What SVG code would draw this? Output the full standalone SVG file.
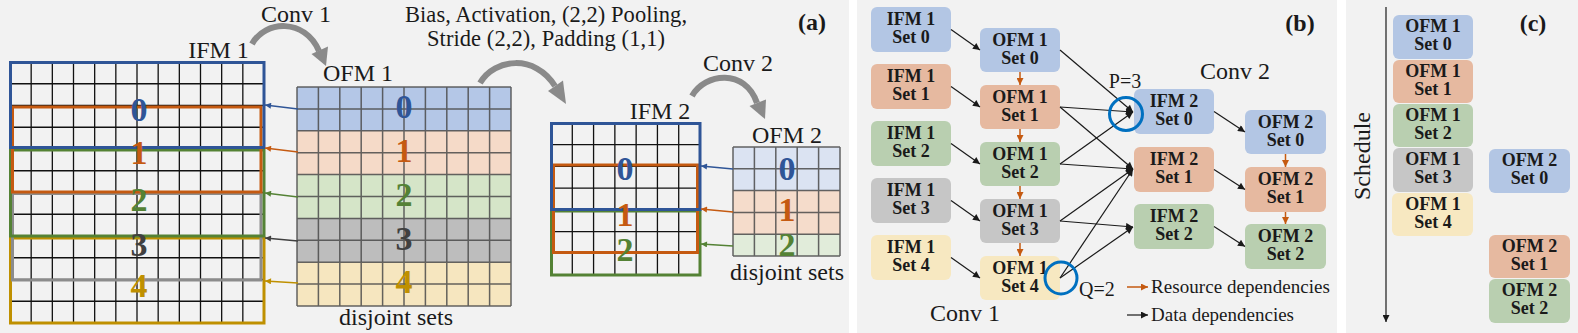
<svg xmlns="http://www.w3.org/2000/svg" width="1578" height="333" viewBox="0 0 1578 333">
<style>
text{font-family:"Liberation Serif","DejaVu Serif","Times New Roman",serif;fill:#1a1a1a}
.lbl{font-size:24px;font-family:"Liberation Serif","DejaVu Serif",serif;font-weight:normal}
.big{font-size:34px;font-weight:bold;text-anchor:middle}
.pl{font-size:24px;font-weight:bold;text-anchor:middle}
.nt{font-size:18px;font-weight:bold;text-anchor:middle}
.sm{font-family:"Liberation Serif","DejaVu Serif",serif;font-weight:normal}
.mid{text-anchor:middle}
.grid{fill:none;stroke:#111;stroke-width:1.3}
.ogrid{fill:none;stroke:#4a4a4a;stroke-width:1.5;stroke-opacity:0.85}
.box{fill:none;stroke-width:3}
.arc{fill:none;stroke:#8a8a8a;stroke-width:6}
.ahd{fill:#8a8a8a}
.e{stroke:#1a1a1a;stroke-width:1.2;fill:none;marker-end:url(#mk)}
.r{stroke:#c55a11;stroke-width:1.5;fill:none;marker-end:url(#mr)}
.cb{fill:#b3c6e4}.co{fill:#e6b9a0}.cg{fill:#b9cfb0}.cy{fill:#c6c6c6}.cl{fill:#f7e8c1}
</style>
<defs>
<marker id="mk" viewBox="0 0 10 10" refX="10" refY="5" markerUnits="userSpaceOnUse" markerWidth="10" markerHeight="7" orient="auto"><path d="M0,0L10,5L0,10z" fill="#1a1a1a"/></marker>
<marker id="mr" viewBox="0 0 10 10" refX="10" refY="5" markerUnits="userSpaceOnUse" markerWidth="8" markerHeight="7" orient="auto"><path d="M0,0L10,5L0,10z" fill="#c55a11"/></marker>
<marker id="m0" viewBox="0 0 10 10" refX="10" refY="5" markerUnits="userSpaceOnUse" markerWidth="9" markerHeight="6" orient="auto"><path d="M0,0L10,5L0,10z" fill="#2f5597"/></marker>
<marker id="m1" viewBox="0 0 10 10" refX="10" refY="5" markerUnits="userSpaceOnUse" markerWidth="9" markerHeight="6" orient="auto"><path d="M0,0L10,5L0,10z" fill="#c55a11"/></marker>
<marker id="m2" viewBox="0 0 10 10" refX="10" refY="5" markerUnits="userSpaceOnUse" markerWidth="9" markerHeight="6" orient="auto"><path d="M0,0L10,5L0,10z" fill="#548235"/></marker>
<marker id="m3" viewBox="0 0 10 10" refX="10" refY="5" markerUnits="userSpaceOnUse" markerWidth="9" markerHeight="6" orient="auto"><path d="M0,0L10,5L0,10z" fill="#404040"/></marker>
<marker id="m4" viewBox="0 0 10 10" refX="10" refY="5" markerUnits="userSpaceOnUse" markerWidth="9" markerHeight="6" orient="auto"><path d="M0,0L10,5L0,10z" fill="#bf9000"/></marker>
</defs>

<!-- panel backgrounds -->
<rect x="0" y="0" width="1578" height="333" fill="#ffffff"/>
<rect x="0" y="0" width="849" height="333" fill="#f2f2f2"/>
<rect x="857" y="0" width="480" height="333" fill="#f2f2f2"/>
<rect x="1346" y="0" width="232" height="333" fill="#f2f2f2"/>

<!-- ===== Panel (a) ===== -->
<g id="ifm1">
<path class="grid" d="M10,62V323M31.17,62V323M52.33,62V323M73.5,62V323M94.67,62V323M115.83,62V323M137,62V323M158.17,62V323M179.33,62V323M200.5,62V323M221.67,62V323M242.83,62V323M264,62V323M10,62H264M10,83.75H264M10,105.5H264M10,127.25H264M10,149H264M10,170.75H264M10,192.5H264M10,214.25H264M10,236H264M10,257.75H264M10,279.5H264M10,301.25H264M10,323H264"/>
<rect class="box" x="10.5" y="238" width="253.5" height="85" stroke="#bf9000"/>
<rect class="box" x="12.5" y="193.5" width="248.5" height="86.5" stroke="#8c8c8c"/>
<rect class="box" x="10.5" y="150" width="253.5" height="86" stroke="#548235"/>
<rect class="box" x="12.5" y="107" width="248.5" height="85" stroke="#c55a11"/>
<rect class="box" x="10.5" y="62.5" width="253.5" height="85" stroke="#2f5597"/>
<text class="big" x="139" y="121" style="fill:#2f5597">0</text>
<text class="big" x="139" y="164" style="fill:#c55a11">1</text>
<text class="big" x="139" y="211" style="fill:#548235">2</text>
<text class="big" x="139" y="256" style="fill:#404040">3</text>
<text class="big" x="139" y="297" style="fill:#bf9000">4</text>
<text class="lbl mid" x="218.5" y="58">IFM 1</text>
</g>

<g id="ofm1">
<rect x="297" y="87" width="214" height="43.8" fill="#b4c7e7"/>
<rect x="297" y="130.8" width="214" height="43.8" fill="#f5dac8"/>
<rect x="297" y="174.6" width="214" height="43.8" fill="#d5e5c8"/>
<rect x="297" y="218.4" width="214" height="43.8" fill="#bdbdbd"/>
<rect x="297" y="262.2" width="214" height="43.8" fill="#f6e6bf"/>
<path class="ogrid" d="M297,87V306M318.4,87V306M339.8,87V306M361.2,87V306M382.6,87V306M404,87V306M425.4,87V306M446.8,87V306M468.2,87V306M489.6,87V306M511,87V306M297,87H511M297,108.9H511M297,130.8H511M297,152.7H511M297,174.6H511M297,196.5H511M297,218.4H511M297,240.3H511M297,262.2H511M297,284.1H511M297,306H511"/>
<text class="big" x="404" y="118" style="fill:#2f5597">0</text>
<text class="big" x="404" y="162" style="fill:#c55a11">1</text>
<text class="big" x="404" y="206" style="fill:#548235">2</text>
<text class="big" x="404" y="250" style="fill:#404040">3</text>
<text class="big" x="404" y="293" style="fill:#bf9000">4</text>
<text class="lbl mid" x="358" y="81">OFM 1</text>
<text class="lbl mid" x="396" y="325">disjoint sets</text>
</g>

<g id="ifm2">
<path class="grid" d="M551,123V275M572.29,123V275M593.57,123V275M614.86,123V275M636.14,123V275M657.43,123V275M678.71,123V275M700,123V275M551,123H700M551,144.71H700M551,166.43H700M551,188.14H700M551,209.86H700M551,231.57H700M551,253.29H700M551,275H700"/>
<rect class="box" x="551.5" y="211" width="148.5" height="64" stroke="#548235"/>
<rect class="box" x="553.5" y="165" width="144" height="87.5" stroke="#c55a11"/>
<rect class="box" x="551.5" y="123.5" width="148.5" height="86" stroke="#2f5597"/>
<text class="big" x="625" y="180" style="fill:#2f5597">0</text>
<text class="big" x="625" y="226" style="fill:#c55a11">1</text>
<text class="big" x="625" y="261" style="fill:#548235">2</text>
<text class="lbl mid" x="660" y="119">IFM 2</text>
</g>

<g id="ofm2">
<rect x="733" y="147" width="107" height="43.6" fill="#dbe3f2"/>
<rect x="733" y="190.6" width="107" height="43.6" fill="#f5dccb"/>
<rect x="733" y="234.2" width="107" height="21.8" fill="#e1ecda"/>
<path class="ogrid" d="M733,147V256M754.4,147V256M775.8,147V256M797.2,147V256M818.6,147V256M840,147V256M733,147H840M733,168.8H840M733,190.6H840M733,212.4H840M733,234.2H840M733,256H840"/>
<text class="big" x="787" y="180" style="fill:#2f5597">0</text>
<text class="big" x="787" y="221" style="fill:#c55a11">1</text>
<text class="big" x="787" y="256" style="fill:#548235">2</text>
<text class="lbl mid" x="787" y="143">OFM 2</text>
<text class="lbl mid" x="787" y="280">disjoint sets</text>
</g>

<g id="arcs">
<path class="arc" d="M252,44C265,20 305,18 319,51"/>
<polygon class="ahd" points="311.5,54 328,46.5 326,66"/>
<path class="arc" d="M480,83C495,58 535,54 555,86"/>
<polygon class="ahd" points="548,91 563,80.5 566,104"/>
<path class="arc" d="M692,96C705,73 745,68 757,103"/>
<polygon class="ahd" points="749.5,106 766,99.5 765,119"/>
<text class="lbl mid" x="296" y="22">Conv 1</text>
<text class="lbl mid" x="546" y="22" style="font-size:22.5px" textLength="282">Bias, Activation, (2,2) Pooling,</text>
<text class="lbl mid" x="546" y="46" style="font-size:22.5px" textLength="238">Stride (2,2), Padding (1,1)</text>
<text class="lbl mid" x="738" y="71">Conv 2</text>
<text class="pl" x="812" y="30">(a)</text>
</g>

<g id="connectors-a" fill="none" stroke-width="1.3">
<line x1="298" y1="109" x2="265" y2="105" stroke="#2f5597" marker-end="url(#m0)"/>
<line x1="298" y1="152" x2="265" y2="148" stroke="#c55a11" marker-end="url(#m1)"/>
<line x1="298" y1="197" x2="265" y2="193" stroke="#548235" marker-end="url(#m2)"/>
<line x1="298" y1="241" x2="265" y2="238" stroke="#404040" marker-end="url(#m3)"/>
<line x1="298" y1="283" x2="265" y2="281" stroke="#bf9000" marker-end="url(#m4)"/>
<line x1="733" y1="169" x2="701" y2="166" stroke="#2f5597" marker-end="url(#m0)"/>
<line x1="733" y1="212" x2="701" y2="209" stroke="#c55a11" marker-end="url(#m1)"/>
<line x1="733" y1="246" x2="701" y2="244" stroke="#548235" marker-end="url(#m2)"/>
</g>

<!-- ===== Panel (b) ===== -->
<g id="b-ifm1-0"><rect class="cb" x="871" y="7" width="80" height="45" rx="6"/><text class="nt" x="911" y="25">IFM 1</text><text class="nt" x="911" y="43">Set 0</text></g>
<g id="b-ifm1-1"><rect class="co" x="871" y="64" width="80" height="45" rx="6"/><text class="nt" x="911" y="82">IFM 1</text><text class="nt" x="911" y="100">Set 1</text></g>
<g id="b-ifm1-2"><rect class="cg" x="871" y="121" width="80" height="45" rx="6"/><text class="nt" x="911" y="139">IFM 1</text><text class="nt" x="911" y="157">Set 2</text></g>
<g id="b-ifm1-3"><rect class="cy" x="871" y="178" width="80" height="45" rx="6"/><text class="nt" x="911" y="196">IFM 1</text><text class="nt" x="911" y="214">Set 3</text></g>
<g id="b-ifm1-4"><rect class="cl" x="871" y="235" width="80" height="45" rx="6"/><text class="nt" x="911" y="253">IFM 1</text><text class="nt" x="911" y="271">Set 4</text></g>

<g id="b-ofm1-0"><rect class="cb" x="980" y="28" width="80" height="44" rx="6"/><text class="nt" x="1020" y="46">OFM 1</text><text class="nt" x="1020" y="64">Set 0</text></g>
<g id="b-ofm1-1"><rect class="co" x="980" y="85" width="80" height="44" rx="6"/><text class="nt" x="1020" y="103">OFM 1</text><text class="nt" x="1020" y="121">Set 1</text></g>
<g id="b-ofm1-2"><rect class="cg" x="980" y="142" width="80" height="44" rx="6"/><text class="nt" x="1020" y="160">OFM 1</text><text class="nt" x="1020" y="178">Set 2</text></g>
<g id="b-ofm1-3"><rect class="cy" x="980" y="199" width="80" height="44" rx="6"/><text class="nt" x="1020" y="217">OFM 1</text><text class="nt" x="1020" y="235">Set 3</text></g>
<g id="b-ofm1-4"><rect class="cl" x="980" y="256" width="80" height="44" rx="6"/><text class="nt" x="1020" y="274">OFM 1</text><text class="nt" x="1020" y="292">Set 4</text></g>

<g id="b-ifm2-0"><rect class="cb" x="1134" y="89" width="80" height="45" rx="6"/><text class="nt" x="1174" y="107">IFM 2</text><text class="nt" x="1174" y="125">Set 0</text></g>
<g id="b-ifm2-1"><rect class="co" x="1134" y="147" width="80" height="45" rx="6"/><text class="nt" x="1174" y="165">IFM 2</text><text class="nt" x="1174" y="183">Set 1</text></g>
<g id="b-ifm2-2"><rect class="cg" x="1134" y="204" width="80" height="45" rx="6"/><text class="nt" x="1174" y="222">IFM 2</text><text class="nt" x="1174" y="240">Set 2</text></g>

<g id="b-ofm2-0"><rect class="cb" x="1245" y="110" width="81" height="44" rx="6"/><text class="nt" x="1285.5" y="128">OFM 2</text><text class="nt" x="1285.5" y="146">Set 0</text></g>
<g id="b-ofm2-1"><rect class="co" x="1245" y="167" width="81" height="45" rx="6"/><text class="nt" x="1285.5" y="185">OFM 2</text><text class="nt" x="1285.5" y="203">Set 1</text></g>
<g id="b-ofm2-2"><rect class="cg" x="1245" y="224" width="81" height="45" rx="6"/><text class="nt" x="1285.5" y="242">OFM 2</text><text class="nt" x="1285.5" y="260">Set 2</text></g>

<g id="connectors-b">
<line class="e" x1="951" y1="29.5" x2="980" y2="50"/>
<line class="e" x1="951" y1="86.5" x2="980" y2="107"/>
<line class="e" x1="951" y1="143.5" x2="980" y2="164"/>
<line class="e" x1="951" y1="200.5" x2="980" y2="221"/>
<line class="e" x1="951" y1="257.5" x2="980" y2="278"/>
<line class="r" x1="1020" y1="72" x2="1020" y2="85"/>
<line class="r" x1="1020" y1="129" x2="1020" y2="142"/>
<line class="r" x1="1020" y1="186" x2="1020" y2="199"/>
<line class="r" x1="1020" y1="243" x2="1020" y2="256"/>
<line class="e" x1="1060" y1="50" x2="1133" y2="112"/>
<line class="e" x1="1060" y1="107" x2="1133" y2="112"/>
<line class="e" x1="1060" y1="164" x2="1133" y2="112"/>
<line class="e" x1="1060" y1="107" x2="1133" y2="169"/>
<line class="e" x1="1060" y1="164" x2="1133" y2="169"/>
<line class="e" x1="1060" y1="221" x2="1133" y2="169"/>
<line class="e" x1="1060" y1="278" x2="1133" y2="169"/>
<line class="e" x1="1060" y1="221" x2="1133" y2="227"/>
<line class="e" x1="1060" y1="278" x2="1133" y2="227"/>
<line class="e" x1="1214" y1="111.5" x2="1245" y2="132"/>
<line class="e" x1="1214" y1="169.5" x2="1245" y2="189.5"/>
<line class="e" x1="1214" y1="226.5" x2="1245" y2="246.5"/>
<line class="r" x1="1285.5" y1="154" x2="1285.5" y2="167"/>
<line class="r" x1="1285.5" y1="212" x2="1285.5" y2="224"/>
<circle cx="1126" cy="114" r="16.5" fill="none" stroke="#0070c0" stroke-width="3"/>
<circle cx="1061" cy="278" r="16" fill="none" stroke="#0070c0" stroke-width="3"/>
</g>

<g id="b-labels">
<text class="pl" x="1300" y="31">(b)</text>
<text class="lbl mid" x="1235" y="79">Conv 2</text>
<text class="sm mid" x="1125" y="88" style="font-size:20px">P=3</text>
<text class="sm" x="1079" y="296" style="font-size:20px">Q=2</text>
<text class="lbl mid" x="965" y="321">Conv 1</text>
<line class="r" x1="1127" y1="287" x2="1148" y2="287"/>
<text class="sm" x="1151" y="293" style="font-size:19px" textLength="179">Resource dependencies</text>
<line class="e" x1="1127" y1="315" x2="1148" y2="315"/>
<text class="sm" x="1151" y="321" style="font-size:19px" textLength="143">Data dependencies</text>
</g>

<!-- ===== Panel (c) ===== -->
<g id="c-axis">
<line class="e" x1="1386" y1="7" x2="1386" y2="322"/>
<text class="lbl mid" transform="translate(1370,156) rotate(-90)">Schedule</text>
<text class="pl" x="1533" y="31">(c)</text>
</g>
<g id="c-ofm1-0"><rect class="cb" x="1393" y="15" width="80" height="44" rx="6"/><text class="nt" x="1433" y="32">OFM 1</text><text class="nt" x="1433" y="50">Set 0</text></g>
<g id="c-ofm1-1"><rect class="co" x="1393" y="60" width="80" height="43" rx="6"/><text class="nt" x="1433" y="77">OFM 1</text><text class="nt" x="1433" y="95">Set 1</text></g>
<g id="c-ofm1-2"><rect class="cg" x="1393" y="104" width="80" height="43" rx="6"/><text class="nt" x="1433" y="121">OFM 1</text><text class="nt" x="1433" y="139">Set 2</text></g>
<g id="c-ofm1-3"><rect class="cy" x="1393" y="148" width="80" height="44" rx="6"/><text class="nt" x="1433" y="165">OFM 1</text><text class="nt" x="1433" y="183">Set 3</text></g>
<g id="c-ofm1-4"><rect class="cl" x="1392" y="193" width="81" height="43" rx="6"/><text class="nt" x="1433" y="210">OFM 1</text><text class="nt" x="1433" y="228">Set 4</text></g>
<g id="c-ofm2-0"><rect class="cb" x="1489" y="149" width="81" height="44" rx="6"/><text class="nt" x="1529.5" y="166">OFM 2</text><text class="nt" x="1529.5" y="184">Set 0</text></g>
<g id="c-ofm2-1"><rect class="co" x="1489" y="235" width="81" height="43" rx="6"/><text class="nt" x="1529.5" y="252">OFM 2</text><text class="nt" x="1529.5" y="270">Set 1</text></g>
<g id="c-ofm2-2"><rect class="cg" x="1489" y="279" width="81" height="44" rx="6"/><text class="nt" x="1529.5" y="296">OFM 2</text><text class="nt" x="1529.5" y="314">Set 2</text></g>
</svg>
